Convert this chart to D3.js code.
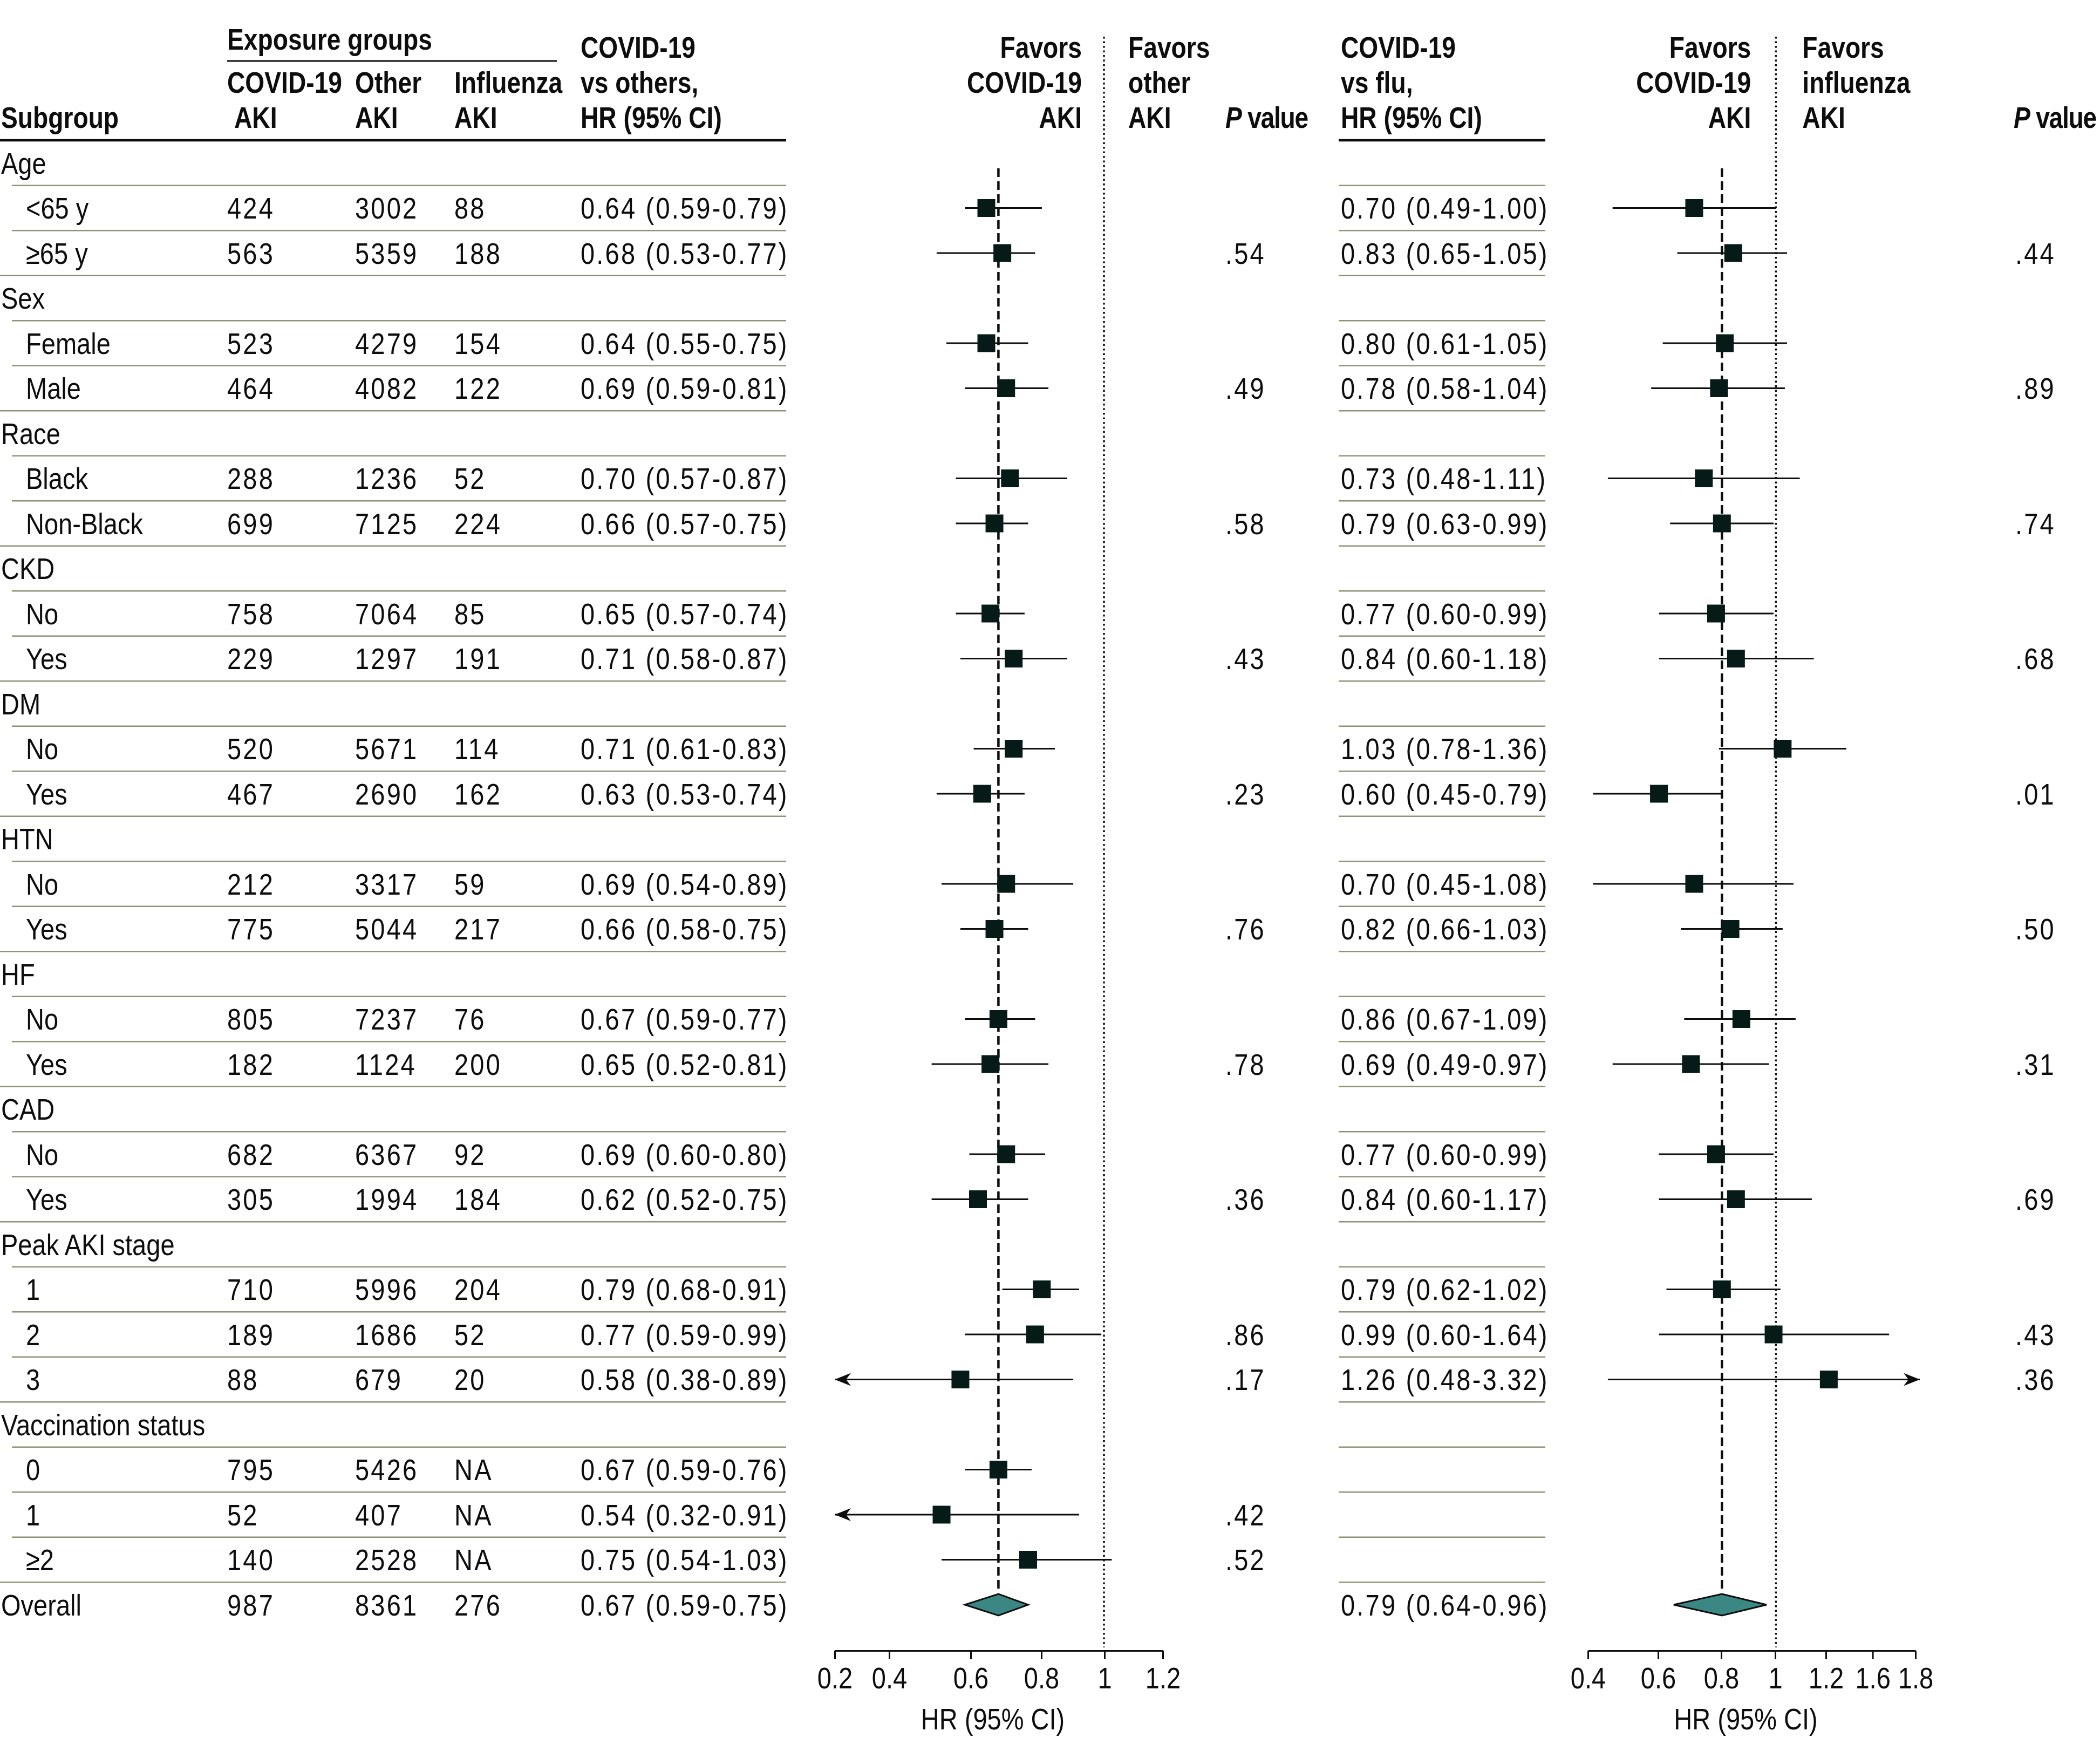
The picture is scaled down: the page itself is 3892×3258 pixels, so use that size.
<!DOCTYPE html>
<html><head><meta charset="utf-8">
<script src="https://cdn.jsdelivr.net/npm/d3@7"></script>
<style>
body{margin:0;background:#fff}
svg text{font-family:"Liberation Sans",Arial,sans-serif;fill:#0d0d0d}
.num{letter-spacing:3.8px}
.hd{font-weight:bold;font-size:55px}
.rg{font-size:56px}
</style></head><body>
<svg id="chart" width="3892" height="3258"></svg>
<script>
// ---------------- DATA ----------------
const subgroups = ["Age","<65 y","≥65 y","Sex","Female","Male","Race","Black","Non-Black","CKD","No","Yes","DM","No","Yes","HTN","No","Yes","HF","No","Yes","CAD","No","Yes","Peak AKI stage","1","2","3","Vaccination status","0","1","≥2","Overall"];
const level = [0,1,1,0,1,1,0,1,1,0,1,1,0,1,1,0,1,1,0,1,1,0,1,1,0,1,1,1,0,1,1,1,0];
const covidAKI = [null,424,563,null,523,464,null,288,699,null,758,229,null,520,467,null,212,775,null,805,182,null,682,305,null,710,189,88,null,795,52,140,987];
const otherAKI = [null,3002,5359,null,4279,4082,null,1236,7125,null,7064,1297,null,5671,2690,null,3317,5044,null,7237,1124,null,6367,1994,null,5996,1686,679,null,5426,407,2528,8361];
const fluAKI = [null,88,188,null,154,122,null,52,224,null,85,191,null,114,162,null,59,217,null,76,200,null,92,184,null,204,52,20,null,"NA","NA","NA",276];
const hrOthers = [null,0.64,0.68,null,0.64,0.69,null,0.70,0.66,null,0.65,0.71,null,0.71,0.63,null,0.69,0.66,null,0.67,0.65,null,0.69,0.62,null,0.79,0.77,0.58,null,0.67,0.54,0.75,0.67];
const loOthers = [null,0.59,0.53,null,0.55,0.59,null,0.57,0.57,null,0.57,0.58,null,0.61,0.53,null,0.54,0.58,null,0.59,0.52,null,0.60,0.52,null,0.68,0.59,0.38,null,0.59,0.32,0.54,0.59];
const hiOthers = [null,0.79,0.77,null,0.75,0.81,null,0.87,0.75,null,0.74,0.87,null,0.83,0.74,null,0.89,0.75,null,0.77,0.81,null,0.80,0.75,null,0.91,0.99,0.89,null,0.76,0.91,1.03,0.75];
const pOthers = [null,null,".54",null,null,".49",null,null,".58",null,null,".43",null,null,".23",null,null,".76",null,null,".78",null,null,".36",null,null,".86",".17",null,null,".42",".52",null];
const hrFlu = [null,0.70,0.83,null,0.80,0.78,null,0.73,0.79,null,0.77,0.84,null,1.03,0.60,null,0.70,0.82,null,0.86,0.69,null,0.77,0.84,null,0.79,0.99,1.26,null,null,null,null,0.79];
const loFlu = [null,0.49,0.65,null,0.61,0.58,null,0.48,0.63,null,0.60,0.60,null,0.78,0.45,null,0.45,0.66,null,0.67,0.49,null,0.60,0.60,null,0.62,0.60,0.48,null,null,null,null,0.64];
const hiFlu = [null,1.00,1.05,null,1.05,1.04,null,1.11,0.99,null,0.99,1.18,null,1.36,0.79,null,1.08,1.03,null,1.09,0.97,null,0.99,1.17,null,1.02,1.64,3.32,null,null,null,null,0.96];
const pFlu = [null,null,".44",null,null,".89",null,null,".74",null,null,".68",null,null,".01",null,null,".50",null,null,".31",null,null,".69",null,null,".43",".36",null,null,null,null,null];
const ticksOthers = [0.2,0.4,0.6,0.8,1,1.2];
const ticksFlu = [0.4,0.6,0.8,1,1.2,1.6,1.8];
const overallIndex = 32;

// ---------------- LAYOUT ----------------
const W = 3892, H = 3258;
const SX = 0.84;              // horizontal condensing of the type
const nRows = subgroups.length;
const rowY = d3.scaleLinear().domain([0, nRows - 1]).range([302, 302 + (nRows - 1) * 83.5]);
const rowStep = rowY(1) - rowY(0);
const baseOff = 19.5;
const col = {label0: 2, label1: 48, covid: 421, other: 658, flu: 842, hrO: 1076, pO: 2271, hrF: 2485, pF: 3735};
const tableL = [0, 1457], tableR = [2481, 2864], indent = 22;
const HB = [107, 172, 237];
const thickY = 260;
const axisY = 3059;
const sepColor = "#8c9478";
const ink = "#0d0d0d";
const boxFill = "#061a17";
const diamondFill = "#3b8784";

const panels = [
  {hr: hrOthers, lo: loOthers, hi: hiOthers, ticks: ticksOthers,
   axis: [1547, 2155], domain: [0.36, 1.25],
   tickFrac: [0, 0.1661, 0.4145, 0.6299, 0.8224, 1],
   clipLow: 0.4, clipHigh: Infinity,
   leftLab: ["Favors", "COVID-19", "AKI"], rightLab: ["Favors", "other", "AKI"], labOff: [-41, 45]},
  {hr: hrFlu, lo: loFlu, hi: hiFlu, ticks: ticksFlu,
   axis: [2943, 3550], domain: [0.44, 1.84],
   tickFrac: [0, 0.2142, 0.4069, 0.5717, 0.7265, 0.8692, 1],
   clipLow: 0, clipHigh: 1.84,
   leftLab: ["Favors", "COVID-19", "AKI"], rightLab: ["Favors", "influenza", "AKI"], labOff: [-46, 49]}
];

// ---------------- DRAW ----------------
const svg = d3.select("#chart").attr("viewBox", `0 0 ${W} ${H}`);
svg.append("rect").attr("width", W).attr("height", H).attr("fill", "#fff");
const g = svg.append("g");

function put(sel, x, y) { return sel.attr("transform", `translate(${x},${y}) scale(${SX},1)`); }
function hText(x, y, t, anchor) {
  return put(g.append("text").attr("class", "hd").attr("text-anchor", anchor || "start").text(t), x, y);
}
function rText(x, y, t, isNum) {
  return put(g.append("text").attr("class", "rg" + (isNum ? " num" : "")).text(t), x, y);
}

// header
hText(col.label0, HB[2], "Subgroup");
hText(col.covid, 92, "Exposure groups");
g.append("line").attr("x1", col.covid).attr("x2", 1032).attr("y1", 113).attr("y2", 113)
  .attr("stroke", ink).attr("stroke-width", 3);
hText(col.covid, HB[1], "COVID-19"); hText(col.covid + 13, HB[2], "AKI");
hText(col.other, HB[1], "Other"); hText(col.other, HB[2], "AKI");
hText(col.flu, HB[1], "Influenza"); hText(col.flu, HB[2], "AKI");
["COVID-19", "vs others,", "HR (95% CI)"].forEach((t, i) => hText(col.hrO, HB[i], t));
["COVID-19", "vs flu,", "HR (95% CI)"].forEach((t, i) => hText(col.hrF, HB[i], t));
[col.pO, col.pF - 3].forEach(x => {
  const t = put(g.append("text").attr("class", "hd").style("letter-spacing", "-1.5px"), x, HB[2]);
  t.append("tspan").attr("font-style", "italic").text("P");
  t.append("tspan").text(" value");
});
[tableL, tableR].forEach(r => g.append("line").attr("x1", r[0]).attr("x2", r[1])
  .attr("y1", thickY).attr("y2", thickY).attr("stroke", ink).attr("stroke-width", 4.5));

// separators
const sepG = g.append("g");
d3.range(nRows - 1).forEach(i => {
  const y = rowY(i) + rowStep / 2;
  const x0 = level[i + 1] === 0 ? tableL[0] : indent;
  sepG.append("line").attr("x1", x0).attr("x2", tableL[1]).attr("y1", y).attr("y2", y)
    .attr("stroke", sepColor).attr("stroke-width", 2.5);
  sepG.append("line").attr("x1", tableR[0]).attr("x2", tableR[1]).attr("y1", y).attr("y2", y)
    .attr("stroke", sepColor).attr("stroke-width", 2.5);
});

// row text
const fmt = d3.format(".2f");
subgroups.forEach((s, i) => {
  const y = rowY(i) + baseOff;
  rText(level[i] ? col.label1 : col.label0, y, s, false);
  if (covidAKI[i] != null) rText(col.covid, y, covidAKI[i], true);
  if (otherAKI[i] != null) rText(col.other, y, otherAKI[i], true);
  if (fluAKI[i] != null) rText(col.flu, y, fluAKI[i], true);
  if (hrOthers[i] != null) rText(col.hrO, y, `${fmt(hrOthers[i])} (${fmt(loOthers[i])}-${fmt(hiOthers[i])})`, true);
  if (hrFlu[i] != null) rText(col.hrF, y, `${fmt(hrFlu[i])} (${fmt(loFlu[i])}-${fmt(hiFlu[i])})`, true);
  if (pOthers[i] != null) rText(col.pO, y, pOthers[i], true);
  if (pFlu[i] != null) rText(col.pF, y, pFlu[i], true);
});

// panels
function arrowHead(tipX, y, dir) {
  const L = 30, h = 12, n = 21;
  return `M${tipX},${y}L${tipX + dir * L},${y - h}L${tipX + dir * n},${y}L${tipX + dir * L},${y + h}Z`;
}
panels.forEach(p => {
  const x = d3.scaleLog().domain(p.domain).range(p.axis);
  const pg = g.append("g");
  const x1 = x(1);
  // reference lines
  pg.append("line").attr("x1", x1).attr("x2", x1).attr("y1", 68).attr("y2", axisY - 6)
    .attr("stroke", ink).attr("stroke-width", 3.5).attr("stroke-dasharray", "3.5,5");
  const xo = x(p.hr[overallIndex]);
  pg.append("line").attr("x1", xo).attr("x2", xo).attr("y1", rowY(0) + 10).attr("y2", rowY(overallIndex) - 24)
    .attr("stroke", ink).attr("stroke-width", 4.5).attr("stroke-dasharray", "16,8");
  // header labels
  p.leftLab.forEach((t, i) => hText(x1 + p.labOff[0], HB[i], t, "end"));
  p.rightLab.forEach((t, i) => hText(x1 + p.labOff[1], HB[i], t, "start"));
  // CIs
  const rows = d3.range(nRows).filter(i => p.hr[i] != null && i !== overallIndex);
  rows.forEach(i => {
    const y = rowY(i);
    const cutL = p.lo[i] < p.clipLow, cutR = p.hi[i] > p.clipHigh;
    const xa = cutL ? p.axis[0] : x(p.lo[i]);
    const xb = cutR ? p.axis[1] + 8 : x(p.hi[i]);
    pg.append("line").attr("x1", xa).attr("x2", xb).attr("y1", y).attr("y2", y)
      .attr("stroke", ink).attr("stroke-width", 2.8);
    if (cutL) pg.append("path").attr("d", arrowHead(xa, y, 1)).attr("fill", ink);
    if (cutR) pg.append("path").attr("d", arrowHead(xb, y, -1)).attr("fill", ink);
  });
  // boxes
  pg.selectAll("rect.box").data(rows).join("rect").attr("class", "box")
    .attr("x", i => x(p.hr[i]) - 16.5).attr("y", i => rowY(i) - 16.5)
    .attr("width", 33).attr("height", 33).attr("fill", boxFill);
  // overall diamond
  const yO = rowY(overallIndex);
  pg.append("path")
    .attr("d", `M${x(p.lo[overallIndex])},${yO}L${xo},${yO - 20}L${x(p.hi[overallIndex])},${yO}L${xo},${yO + 20}Z`)
    .attr("fill", diamondFill).attr("stroke", ink).attr("stroke-width", 3);
  // axis (tick labels placed as printed in the source figure)
  const tickScale = d3.scaleLinear().domain(p.ticks)
    .range(p.tickFrac.map(f => p.axis[0] + f * (p.axis[1] - p.axis[0])));
  const axG = pg.append("g").attr("transform", `translate(0,${axisY})`)
    .call(d3.axisBottom(tickScale).tickValues(p.ticks).tickSize(16).tickSizeOuter(0)
      .tickPadding(20).tickFormat(d3.format("~g")));
  axG.select(".domain").attr("stroke", ink).attr("stroke-width", 3);
  axG.selectAll(".tick line").attr("stroke", ink).attr("stroke-width", 3);
  axG.selectAll(".tick text").attr("font-size", 56).attr("fill", ink)
    .attr("x", 0).attr("y", 0).attr("dy", null)
    .attr("transform", `translate(0,70) scale(${SX},1)`);
  put(pg.append("text").attr("class", "rg").attr("text-anchor", "middle").attr("font-size", 57)
    .text("HR (95% CI)"), (p.axis[0] + p.axis[1]) / 2 - 11, 3205);
});
</script></body></html>
